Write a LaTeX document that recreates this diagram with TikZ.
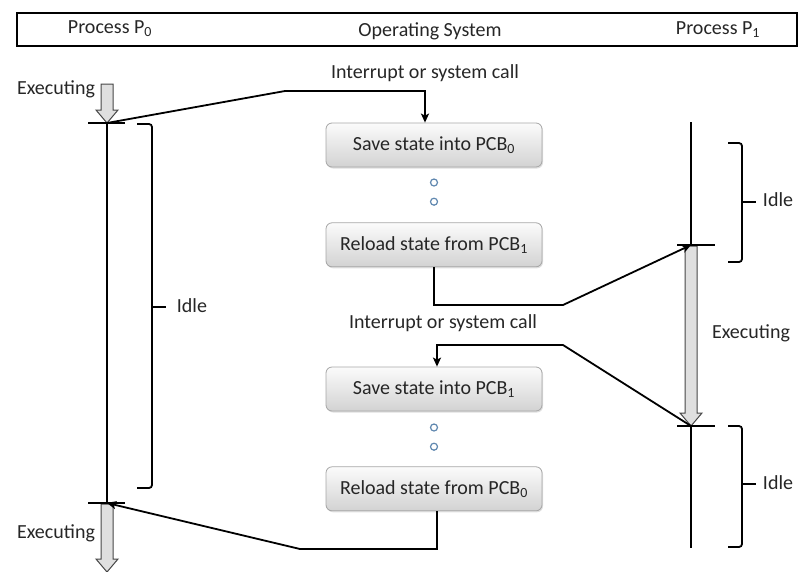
\documentclass[tikz,border=0pt]{standalone}
\usepackage{fontspec}
\setmainfont{Carlito}
\usetikzlibrary{arrows.meta,positioning,shadows}

\definecolor{dotblue}{RGB}{95,135,175}
\tikzset{
  lbl/.style={font=\fontsize{20}{22}\selectfont, text=black!85, inner sep=1pt},
  osbox/.style={lbl, draw=gray!70, line width=0.8pt, rounded corners=6pt, top color=gray!3, bottom color=gray!35,
    minimum width=216pt, minimum height=44pt,
    drop shadow={opacity=0.25, shadow xshift=1pt, shadow yshift=-1.5pt}},
  flow/.style={-{Stealth[length=9pt,width=8pt,inset=2pt]}, line width=1.8pt},
  tl/.style={line width=1.6pt},
  brace/.style={line width=1.8pt, rounded corners=3pt},
  dot/.style={circle, draw=dotblue, fill=white, line width=1.2pt, minimum size=7pt, inner sep=0pt},
  execarr/.style={draw=gray!55!black, fill=gray!25, line width=1pt},
}
\newcommand{\execarrow}[3]{%
  \draw[execarr] (#1-6,#2) -- (#1+6,#2) -- (#1+6,#3-13) -- (#1+11,#3-13) -- (#1,#3)
    -- (#1-11,#3-13) -- (#1-6,#3-13) -- cycle;}

\begin{document}
\begin{tikzpicture}[x=1pt, y=-1pt]
  \useasboundingbox (0,0) rectangle (798,571);

  \draw[line width=1.5pt] (17,13) rectangle (797,46);
  \node[lbl] (hp0) at (110,29) {Process P\textsubscript{0}};
  \node[lbl] (hos) at (430,31) {Operating System};
  \node[lbl] (hp1) at (718,30) {Process P\textsubscript{1}};

  \coordinate (p0top) at (107,123);
  \coordinate (p0bot) at (107,503);
  \coordinate (p1a) at (691,245);
  \coordinate (p1b) at (691,426);

  \node[osbox] (save0) at (434,145) {Save state into PCB\textsubscript{0}};
  \node[dot, below=11pt of save0] (d1) {};
  \node[dot, below=11pt of d1] (d2) {};
  \node[osbox, below=55pt of save0] (reload1) {Reload state from PCB\textsubscript{1}};
  \node[osbox] (save1) at (434,389) {Save state into PCB\textsubscript{1}};
  \node[dot, below=12pt of save1] (d3) {};
  \node[dot, below=11pt of d3] (d4) {};
  \node[osbox, below=55pt of save1] (reload0) {Reload state from PCB\textsubscript{0}};

  \node[lbl] (int0) at (425,73) {Interrupt or system call};
  \node[lbl] (int1) at (443,323) {Interrupt or system call};
  \node[lbl] (ex0) at (56,89) {Executing};
  \node[lbl] (ex1) at (751,333) {Executing};
  \node[lbl] (ex2) at (56,533) {Executing};
  \node[lbl] (idle0) at (192,306) {Idle};
  \node[lbl] (idle1) at (778,200) {Idle};
  \node[lbl] (idle2) at (778,483) {Idle};

  \execarrow{107}{84}{123}
  \execarrow{691}{246}{426}
  \execarrow{107}{504}{572}

  \draw[tl] (p0top) -- (p0bot);
  \draw[tl] (88,123) -- (125,123);
  \draw[tl] (88,503) -- (125,503);
  \draw[tl] (691,122) -- (p1a);
  \draw[tl] (677,245) -- (715,245);
  \draw[tl] (677,426) -- (715,426);
  \draw[tl] (p1b) -- (691,548);

  \draw[brace] (137,124) -- (152,124) -- (152,488) -- (137,488);
  \draw[brace] (152,307) -- (166,307);
  \draw[brace] (728,143) -- (742,143) -- (742,262) -- (728,262);
  \draw[brace] (742,202) -- (756,202);
  \draw[brace] (728,426) -- (742,426) -- (742,547) -- (728,547);
  \draw[brace] (742,484) -- (756,484);

  \draw[flow] (p0top) -- (285,91) -| ([xshift=-9pt]save0.north);
  \draw[flow] (reload1.south) |- (563,305) -- (p1a);
  \draw[flow] (p1b) -- (563,345) -| ([xshift=3pt]save1.north);
  \draw[flow] ([xshift=3pt]reload0.south) |- (300,549) -- (p0bot);
\end{tikzpicture}
\end{document}
